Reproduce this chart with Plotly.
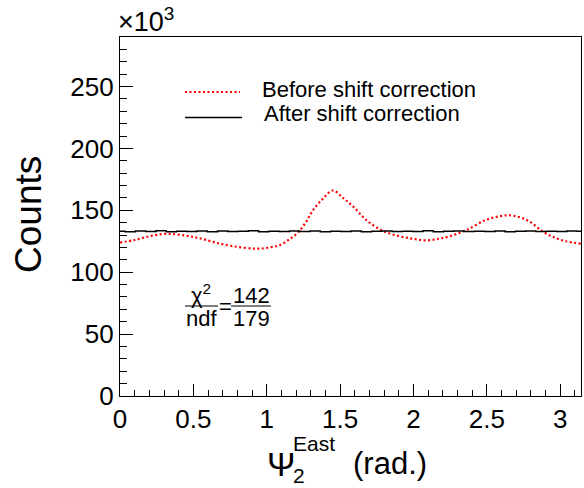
import plotly.graph_objects as go
import math

# ---- data (counts in units of 10^3) ----
before_x = [0.00, 0.10, 0.20, 0.32, 0.45, 0.54, 0.65, 0.77, 0.93, 1.02, 1.09, 1.16,
            1.22, 1.27, 1.315, 1.38, 1.45, 1.52, 1.59, 1.68, 1.79, 1.905, 2.00, 2.086,
            2.17, 2.245, 2.36, 2.49, 2.58, 2.65, 2.72, 2.79, 2.88, 2.96, 3.04, 3.14]
before_y = [124, 126, 129, 131, 129.5, 127.5, 124, 121, 119, 120, 122, 127,
            133, 141, 150, 159, 166, 160, 153, 142, 133.5, 129, 127, 125.7,
            127, 129, 134, 142, 145, 146, 144.5, 141, 133, 128, 125, 123]

after_x = [0.00, 0.07, 0.14, 0.21, 0.28, 0.35, 0.42, 0.49, 0.56, 0.63, 0.70, 0.77,
           0.84, 0.91, 0.98, 1.05, 1.12, 1.19, 1.26, 1.33, 1.40, 1.47, 1.54, 1.61,
           1.68, 1.75, 1.82, 1.89, 1.96, 2.03, 2.10, 2.17, 2.24, 2.31, 2.38, 2.45,
           2.52, 2.59, 2.66, 2.73, 2.80, 2.87, 2.94, 3.01, 3.08, 3.1416]
after_y = [133.0, 132.6, 133.3, 132.8, 133.4, 132.7, 133.1, 132.9, 133.2, 132.6, 133.3, 132.8,
           133.0, 133.4, 132.7, 133.1, 132.8, 133.2, 132.9, 133.3, 132.6, 133.1, 132.9, 133.2,
           132.7, 133.0, 133.3, 132.8, 133.1, 132.9, 133.4, 132.7, 133.0, 133.2, 132.8, 133.1,
           132.9, 133.3, 132.7, 133.0, 133.2, 132.8, 133.1, 132.9, 133.2, 133.0]

x_ticks = [0, 0.5, 1, 1.5, 2, 2.5, 3]
x_tick_labels = ["0", "0.5", "1", "1.5", "2", "2.5", "3"]
y_ticks = [0, 50, 100, 150, 200, 250]
y_tick_labels = ["0", "50", "100", "150", "200", "250"]

legend_labels = ["Before shift correction", "After shift correction"]
chi2_num, chi2_ndf = "142", "179"

FONT = "Liberation Sans, Arial, sans-serif"
W, H = 584, 488
L, R, T, B = 120, 581, 37, 396


def px(x):
    return (x - L) / (R - L)


def py(y):
    return (B - y) / (B - T)


fig = go.Figure()
fig.add_trace(go.Scatter(x=before_x, y=before_y, mode="lines", line_shape="spline",
                         line=dict(color="#ff0000", width=2.2, dash="2px,2.5px"),
                         showlegend=False))
fig.add_trace(go.Scatter(x=after_x, y=after_y, mode="lines", line_shape="hvh",
                         line=dict(color="black", width=1.5), showlegend=False))

ann = []


def text(s, x, y, size, xanchor="left", yanchor="middle", angle=0):
    ann.append(dict(text=s, x=px(x), y=py(y), xref="paper", yref="paper",
                    xanchor=xanchor, yanchor=yanchor, showarrow=False,
                    textangle=angle, font=dict(family=FONT, size=size, color="black")))


# legend
text(legend_labels[0], 260, 89, 22)
text(legend_labels[1], 262, 113, 22)
shapes = [
    dict(type="line", xref="paper", yref="paper", x0=px(185), x1=px(240), y0=py(92), y1=py(92),
         line=dict(color="#ff0000", width=2.2, dash="2px,2.5px")),
    dict(type="line", xref="paper", yref="paper", x0=px(185), x1=px(242), y0=py(117.5), y1=py(117.5),
         line=dict(color="black", width=1.5)),
]

# chi2/ndf
text("χ<sup>2</sup>", 201, 294, 22, xanchor="center")
text("ndf", 201, 318, 22, xanchor="center")
text("=", 225, 306, 22, xanchor="center")
text(chi2_num, 251, 295, 22, xanchor="center")
text(chi2_ndf, 251, 318, 22, xanchor="center")
shapes += [
    dict(type="line", xref="paper", yref="paper", x0=px(185), x1=px(218), y0=py(306), y1=py(306),
         line=dict(color="black", width=1.2)),
    dict(type="line", xref="paper", yref="paper", x0=px(231), x1=px(271), y0=py(306), y1=py(306),
         line=dict(color="black", width=1.2)),
]

# exponent label
text("×10<sup>3</sup>", 116, T + 2, 27, yanchor="bottom")

# y title
text("Counts", 29, 215, 37, xanchor="center", angle=-90)

# x title
text("Ψ", 265, 464, 34)
text("East", 291, 443, 21)
text("2", 291, 475, 21)
text("(rad.)", 351, 463, 31)

axis_common = dict(showline=True, linecolor="black", linewidth=1.3, mirror=True,
                   showgrid=False, zeroline=False, ticks="inside", tickcolor="black",
                   automargin=False,
                   tickwidth=1.2, tickfont=dict(family=FONT, size=26, color="black"))

fig.update_xaxes(range=[0, math.pi], tickvals=x_ticks, ticktext=x_tick_labels, ticklen=12,
                 minor=dict(dtick=0.1, tick0=0, ticks="inside", ticklen=6, tickcolor="black",
                            tickwidth=1.2),
                 **axis_common)
fig.update_yaxes(range=[0, 290], tickvals=y_ticks, ticktext=y_tick_labels, ticklen=13,
                 minor=dict(dtick=10, tick0=0, ticks="inside", ticklen=7, tickcolor="black",
                            tickwidth=1.2),
                 **axis_common)

fig.update_layout(width=W, height=H, margin=dict(l=L, r=W - R, t=T, b=H - B, autoexpand=False),
                  plot_bgcolor="white", paper_bgcolor="white",
                  annotations=ann, shapes=shapes, showlegend=False,
                  font=dict(family=FONT, color="black"))

fig.write_html("out.html", config={"displayModeBar": False},
               post_script="document.body.style.margin='0';document.body.style.overflow='hidden';")
